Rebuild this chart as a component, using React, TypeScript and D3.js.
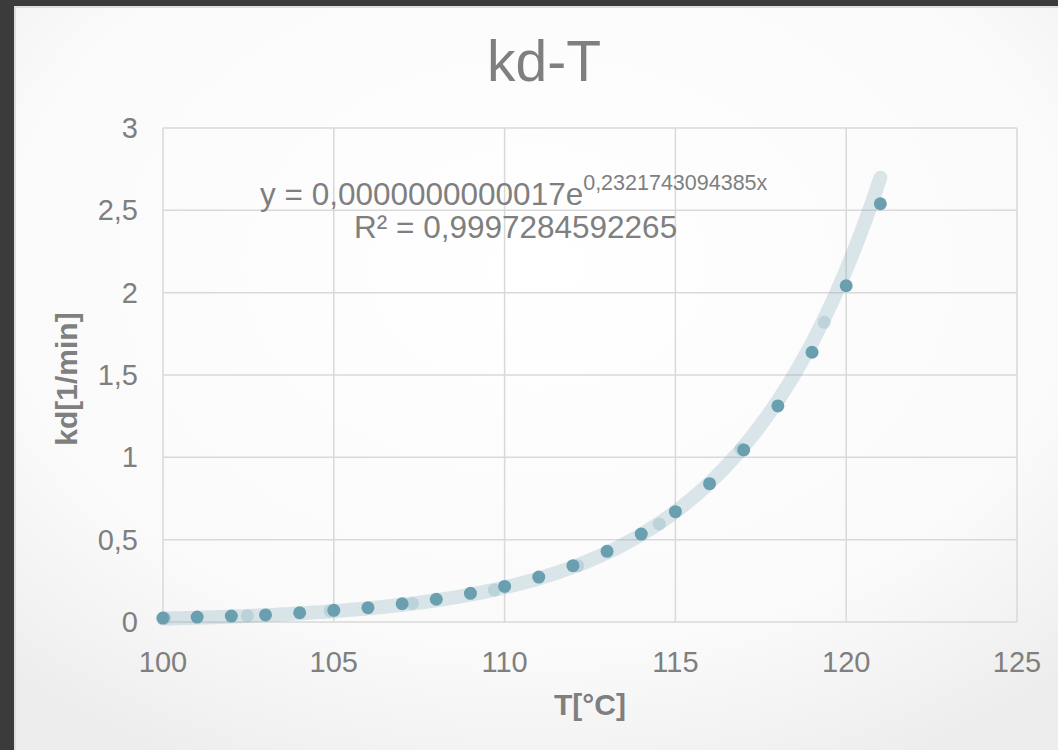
import React from 'react';
import * as d3 from 'd3';

// measured series (T in °C, kd in 1/min)
const tempMain = [100, 101, 102, 103, 104, 105, 106, 107, 108, 109, 110, 111, 112, 113, 114, 115, 116, 117, 118, 119, 120, 121];
const kdMain = [0.024, 0.03, 0.036, 0.043, 0.056, 0.071, 0.087, 0.111, 0.138, 0.174, 0.216, 0.273, 0.342, 0.429, 0.534, 0.67, 0.84, 1.045, 1.312, 1.638, 2.042, 2.54];

// second (faint) series
const tempAlt = [100.05, 102.47, 104.89, 107.3, 109.7, 112.14, 114.53, 116.92, 119.36];
const kdAlt = [0.024, 0.038, 0.067, 0.113, 0.194, 0.342, 0.595, 1.05, 1.82];

// trendline as printed on the chart
const fitA = 1.7e-12;
const fitB = 0.2321743094385;

const xTicks = [100, 105, 110, 115, 120, 125];
const yTicks = [0, 0.5, 1, 1.5, 2, 2.5, 3];

const W = 1058;
const H = 750;
const margin = { top: 128, right: 41, bottom: 128, left: 163 };
const grey = '#7f7f7f';
const font = "'Liberation Sans', Arial, sans-serif";

const App = () => {
  const x = d3.scaleLinear().domain([100, 125]).range([margin.left, W - margin.right]);
  const y = d3.scaleLinear().domain([0, 3]).range([H - margin.bottom, margin.top]);

  const trendX = d3.range(100, 121.001, 0.1);
  const trend = d3.line<number>().x(t => x(t)).y(t => y(fitA * Math.exp(fitB * t)));

  const fmt = (v: number) => String(v).replace('.', ',');

  return (
    <svg width={W} height={H} style={{ position: 'absolute', left: 0, top: 0 }} fontFamily={font}>
      <defs>
        <radialGradient id="bg" cx="50%" cy="35%" r="75%">
          <stop offset="0%" stopColor="#ffffff" />
          <stop offset="70%" stopColor="#fafafa" />
          <stop offset="100%" stopColor="#ededed" />
        </radialGradient>
      </defs>
      <rect x={0} y={0} width={W} height={H} fill="#3b3b3b" />
      <rect x={14} y={6} width={W - 14} height={H - 6} fill="#dedede" />
      <rect x={16} y={8} width={W - 16} height={H - 8} fill="url(#bg)" />

      <text x={544} y={81} textAnchor="middle" fontSize={57} fill={grey}>kd-T</text>

      {yTicks.map(t => (
        <g key={'y' + t}>
          <line x1={x(100)} x2={x(125)} y1={y(t)} y2={y(t)} stroke="#d9d9d9" strokeWidth={1.5} />
          <text x={138} y={y(t)} dy="0.35em" textAnchor="end" fontSize={29} fill={grey}>{fmt(t)}</text>
        </g>
      ))}
      {xTicks.map(t => (
        <g key={'x' + t}>
          <line x1={x(t)} x2={x(t)} y1={y(0)} y2={y(3)} stroke="#d9d9d9" strokeWidth={1.5} />
          <text x={x(t)} y={y(0) + 40} dy="0.35em" textAnchor="middle" fontSize={29} fill={grey}>{t}</text>
        </g>
      ))}

      <path d={trend(trendX) || ''} fill="none" stroke="#6b9fb0" strokeOpacity={0.24} strokeWidth={14} strokeLinecap="round" />

      {tempAlt.map((t, i) => (
        <circle key={'a' + i} cx={x(t)} cy={y(kdAlt[i])} r={6.5} fill="#6b9fb0" fillOpacity={0.25} />
      ))}
      {tempMain.map((t, i) => (
        <circle key={'m' + i} cx={x(t)} cy={y(kdMain[i])} r={6.5} fill="#6a9fb0" />
      ))}

      <text x={260} y={205} fontSize={31.5} fill={grey}>
        y = 0,0000000000017e<tspan dy={-15} fontSize={21.5}>0,2321743094385x</tspan>
      </text>
      <text x={354} y={238} fontSize={31.5} fill={grey}>R² = 0,9997284592265</text>

      <text transform={`translate(77,${379}) rotate(-90)`} textAnchor="middle" fontSize={30} fontWeight="bold" fill={grey}>kd[1/min]</text>
      <text x={590} y={715} textAnchor="middle" fontSize={30} fontWeight="bold" fill={grey}>T[°C]</text>
    </svg>
  );
};

export default App;
